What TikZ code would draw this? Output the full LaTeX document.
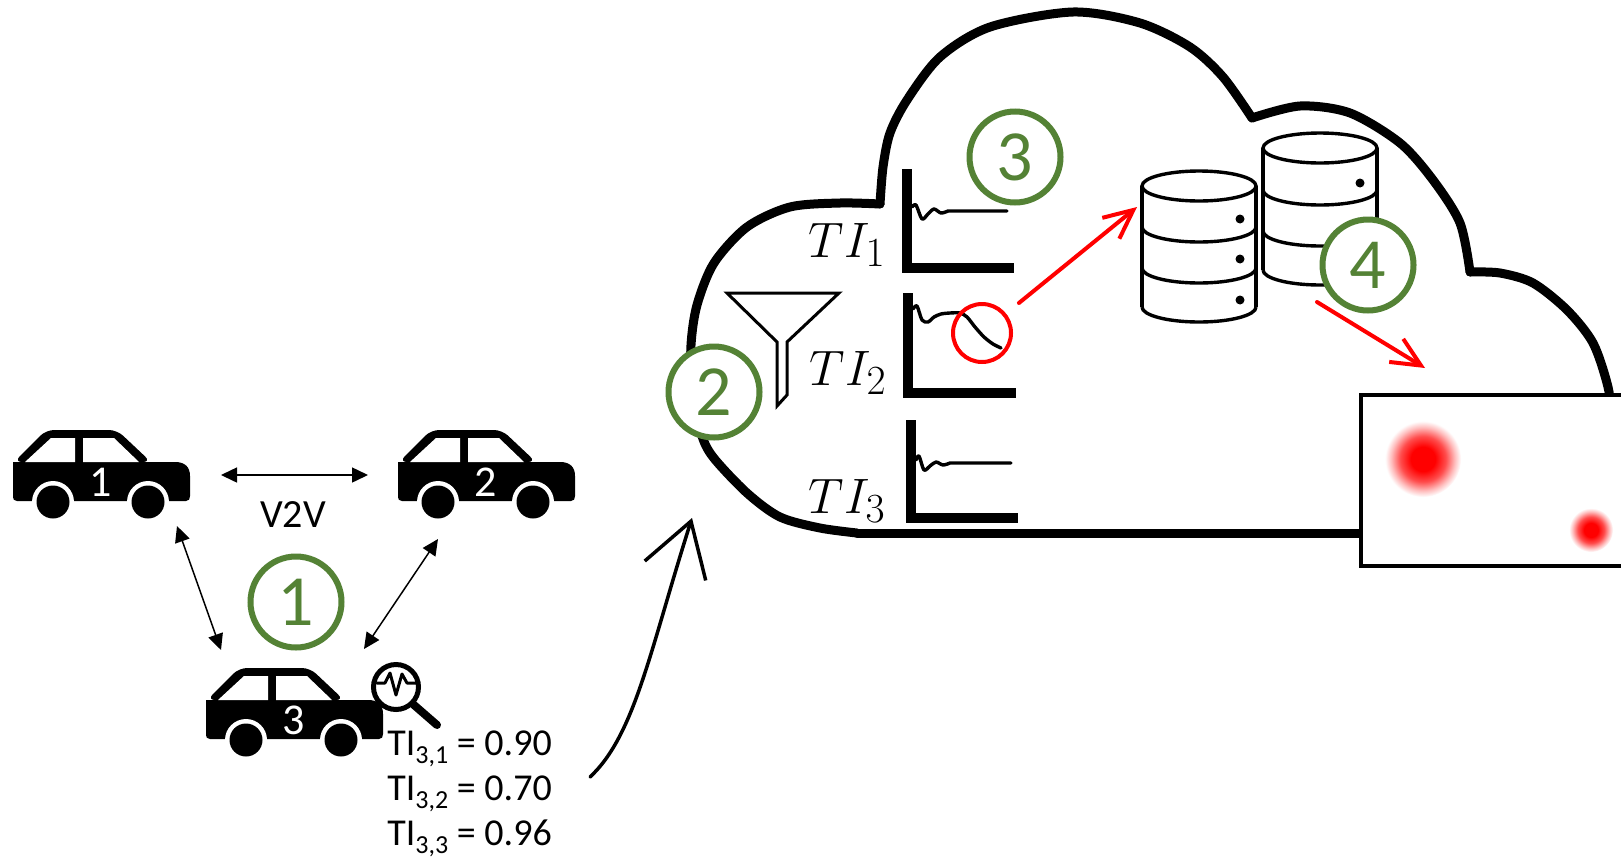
\documentclass[tikz,border=0pt]{standalone}
\usepackage{fontspec}
\setmainfont{Carlito}
\usetikzlibrary{arrows.meta}

\definecolor{stepgreen}{HTML}{548235}
% soft red hot spot: solid core, fading to white at the path border (25bp)
\pgfdeclareradialshading{hotspot}{\pgfpoint{0bp}{0bp}}{%
  color(0bp)=(red); color(8bp)=(red); color(15bp)=(red!70!white);
  color(21bp)=(red!25!white); color(25bp)=(white); color(50bp)=(white)}

\tikzset{
  cloudline/.style={line width=4.5pt, line cap=round, line join=round},
  axisline/.style={line width=5pt, line join=miter},
  signal/.style={line width=1.7pt, line cap=round, line join=round},
  badge/.style={circle, draw=stepgreen, line width=3pt, fill=white,
    minimum size=45.5pt, inner sep=0pt, text=stepgreen,
    font=\fontsize{36}{36}\selectfont},
  link/.style={line width=0.75pt,
    {Triangle[length=8pt,width=7.5pt]}-{Triangle[length=8pt,width=7.5pt]}},
  flow/.style={red, line width=2pt, line cap=round,
    -{Straight Barb[length=14.5pt,width=13.5pt]}},
  dbline/.style={line width=1.7pt},
  carnum/.style={text=white, inner sep=0pt, font=\fontsize{22}{22}\selectfont},
  tilabel/.style={anchor=base east, inner sep=0pt, font=\Huge},
  tivalue/.style={anchor=base west, inner sep=0pt, font=\fontsize{19}{23}\selectfont},
  % car glyph: origin at rear end of the body, on its bottom edge
  pics/car/.style={code={
    \fill[rounded corners=4] (1,-39) -- (33,-71) -- (104,-71) -- (138,-39) -- cycle;
    \fill (0,-4) -- (0,-39) -- (162,-39)
      .. controls (172,-39) and (177,-34) .. (177,-25) -- (177,-5)
      .. controls (177,-2) and (176,0) .. (173,0) -- (4,0)
      .. controls (1,0) and (0,-2) .. (0,-4) -- cycle;
    \fill[white] (12,-39) -- (38,-63) -- (62,-63) -- (62,-39) -- cycle
                 (70,-39) -- (70,-63) -- (101,-63) -- (126,-39) -- cycle;
    \fill[white] (40,1) circle[radius=21] (135,1) circle[radius=21];
    \fill (40,1) circle[radius=16.5] (135,1) circle[radius=16.5];
    \node[carnum] (-num) at (88,-19) {#1};
  }},
}

\newcommand{\subidx}[1]{\raisebox{-4pt}{\fontsize{13}{13}\selectfont #1}}

\begin{document}
\begin{tikzpicture}[x=0.5pt, y=-0.5pt]
\useasboundingbox (0,0) rectangle (1621,857);
\clip (0,0) rectangle (1621,857);
\fill[white] (0,0) rectangle (1621,857);

% ---------------- vehicles ----------------
\pic (car1) at (13,501) {car=1};
\pic (car2) at (398,501) {car=2};
\pic (car3) at (206,739) {car=3};

\coordinate (v2vL) at (221,475);
\coordinate (v2vR) at (368,475);
\coordinate (c1low) at (177,526);
\coordinate (c3left) at (221,650);
\coordinate (c2low) at (438,539);
\coordinate (c3right) at (364,649);
\draw[link] (v2vL) -- (v2vR);
\draw[link] (c1low) -- (c3left);
\draw[link] (c2low) -- (c3right);
\node[inner sep=0pt, font=\fontsize{20}{24}\selectfont] (v2v) at (293,515) {V2V};

\node[badge] (s1) at (296,602) {1};

% magnifier with pulse
\draw[line width=2.5pt] (396,687) circle[radius=22.5];
\draw[line width=4pt, line cap=round] (414,705) -- (437,725);
\draw[line width=1.5pt, line join=round, line cap=round]
  (377,683) -- (385,683) -- (390,673) -- (396,695) -- (402,674) -- (407,683) -- (416,683);

\node[tivalue] (ti31) at (387,755) {TI\subidx{3,1} = 0.90};
\node[tivalue] (ti32) at (387,800) {TI\subidx{3,2} = 0.70};
\node[tivalue] (ti33) at (387,845) {TI\subidx{3,3} = 0.96};

% upload arrow
\coordinate (upfrom) at (590,777);
\coordinate (upto) at (692,518);
\draw[line width=1.75pt, line cap=round, -{Straight Barb[length=26pt,width=32pt]}]
  (upfrom) .. controls (635,735) and (650,650) .. (upto);

% ---------------- cloud ----------------
\draw[cloudline] plot[smooth] coordinates {(857,533) (820,528) (780,517) (747,493)
  (713,457) (701,433) (692,390) (691,345) (697,305) (714,263) (747,227) (790,207)
  (840,203) (880,204)};
\draw[cloudline] plot[smooth] coordinates {(880,204) (883,167) (890,133) (907,100)
  (940,57) (990,27) (1073,12) (1140,23) (1190,47) (1223,77) (1252,118)};
\draw[cloudline] plot[smooth] coordinates {(1252,118) (1300,106) (1350,113)
  (1400,143) (1433,180) (1460,223) (1470,272)};
\draw[cloudline] plot[smooth] coordinates {(1470,272) (1500,273) (1533,283)
  (1567,310) (1593,343) (1608,387) (1612,420)};
\draw[cloudline] (857,533) -- (1400,533);

% map panel with hot spots
\node[draw, line width=2.2pt, fill=white, anchor=north west, inner sep=0pt,
  minimum width=150pt, minimum height=85.5pt] (map) at (1359,393) {};
\shade[shading=hotspot] (1423,459) circle[radius=38];
\shade[shading=hotspot] (1591,530) circle[radius=22];

% filter
\draw[line width=1.5pt, line join=miter] (727,293) -- (839,293) -- (787,342)
  -- (787,395) -- (777,406) -- (777,342) -- cycle;

% trust indicator plots
\node[tilabel] (lab1) at (886,257) {$TI_1$};
\node[tilabel] (lab2) at (887,385) {$TI_2$};
\node[tilabel] (lab3) at (886,513) {$TI_3$};

\draw[axisline] (907,169) -- (907,268) -- (1014,268);
\draw[axisline] (908,293) -- (908,393) -- (1016,393);
\draw[axisline] (911,420) -- (911,518) -- (1018,518);

\draw[signal] plot[smooth] coordinates {(912,207) (916,205) (922,219) (928,214)
  (934,209) (941,213) (948,211)} -- (1007,211);
\draw[signal] plot[smooth] coordinates {(913,309) (917,306) (922,320) (928,322)
  (934,317) (941,314) (950,313) (960,313) (967,317) (975,327) (984,337) (993,344) (1001,348)};
\draw[signal] plot[smooth] coordinates {(916,460) (919,456) (924,470) (930,466)
  (936,462) (943,465) (950,463)} -- (1011,463);

\node[circle, draw=red, line width=2pt, minimum size=29pt, inner sep=0pt] (anomaly) at (982,333) {};

% storage
\foreach \cx/\ya/\yb/\yc/\yd in {1199/186/227/268/307, 1320/148/190/231/270} {
  \draw[dbline, fill=white] (\cx,\ya) ellipse[x radius=57, y radius=15];
  \draw[dbline] (\cx-57,\ya) -- (\cx-57,\yd) (\cx+57,\ya) -- (\cx+57,\yd);
  \foreach \y in {\yb,\yc,\yd}
    \draw[dbline] (\cx-57,\y) arc[start angle=180, end angle=0, x radius=57, y radius=15];
}
\fill (1240,219) circle[radius=4.5] (1240,259) circle[radius=4.5] (1240,300) circle[radius=4.5];
\fill (1360,183) circle[radius=4.5] (1360,224) circle[radius=4.5] (1360,264) circle[radius=4.5];

\coordinate (dbin) at (1137,207);
\coordinate (dbout) at (1317,302);
\coordinate (mapin) at (1425,368);
\draw[flow, shorten <=8.3pt] (anomaly) -- (dbin);
\draw[flow] (dbout) -- (mapin);

% step badges
\node[badge] (s2) at (714,392) {2};
\node[badge] (s3) at (1015,157) {3};
\node[badge] (s4) at (1368,265) {4};
\end{tikzpicture}
\end{document}
